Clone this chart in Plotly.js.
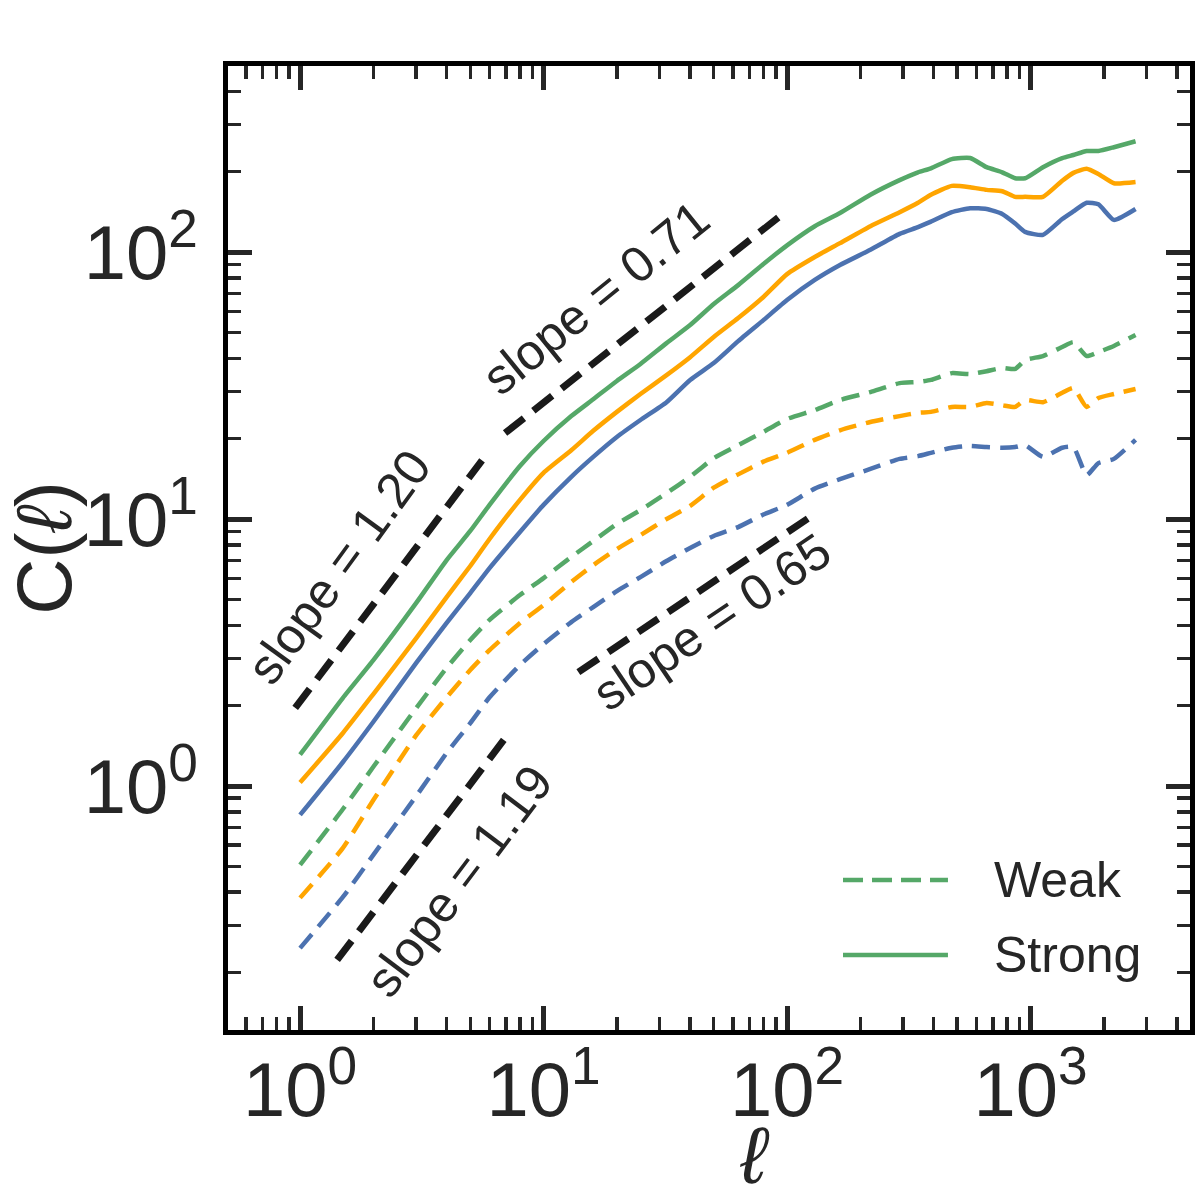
<!DOCTYPE html>
<html>
<head>
<meta charset="utf-8">
<script src="https://cdn.plot.ly/plotly-3.0.1.min.js"></script>
<style>
  html, body { margin: 0; padding: 0; background: #ffffff; }
  #chart { width: 1200px; height: 1200px; }
</style>
</head>
<body>
<div id="chart"></div>
<script>
// ---- data ----
const ell = [1, 1.5, 2, 3, 4, 5, 6, 8, 10, 13, 16, 20, 25, 32, 40, 50, 63, 80, 100,
  130, 165, 220, 290, 345, 390, 475, 565, 660, 765, 865, 950, 1125, 1350, 1500, 1700, 1900, 2200, 2700];

const strongGreen = [1.31, 2.14, 2.96, 4.85, 7.02, 9.02, 11.3, 15.8, 19.6, 24.3, 28.1, 32.9, 38.1, 45.6, 53.3, 63.9, 75.2, 90.2, 106,
  125, 140, 164, 186, 199, 206, 223, 225, 208, 199, 189, 189, 208, 225, 231, 239, 239, 247, 260];
const strongOrange = [1.03, 1.58, 2.21, 3.58, 5.10, 6.67, 8.42, 11.8, 14.9, 18.1, 21.4, 25.2, 29.4, 34.6, 40.4, 48.1, 56.6, 67.9, 82.7,
  95.8, 108, 125, 141, 153, 164, 177, 175, 171, 169, 161, 161, 161, 185, 198, 205, 196, 181, 183];
const strongBlue = [0.779, 1.23, 1.74, 2.89, 4.08, 5.28, 6.55, 8.94, 11.3, 14.4, 17.1, 20.3, 23.5, 27.4, 33.2, 38.4, 46.4, 55.6, 66.1,
  78.6, 89.4, 102, 117, 124, 130, 141, 146, 145, 139, 128, 119, 116, 133, 142, 153, 151, 132, 145];

const weakGreen = [0.506, 0.820, 1.18, 1.96, 2.77, 3.52, 4.19, 5.19, 6.01, 7.21, 8.27, 9.58, 10.8, 12.5, 14.4, 16.9, 18.9, 21.2, 23.7,
  25.6, 27.9, 29.9, 32.3, 32.6, 33.2, 35.2, 34.9, 35.8, 36.8, 36.5, 39.4, 40.8, 44.1, 46.0, 40.8, 42.2, 44.5, 48.9];
const weakOrange = [0.381, 0.586, 0.886, 1.55, 2.15, 2.72, 3.23, 4.08, 4.76, 5.81, 6.72, 7.72, 8.71, 10.0, 11.2, 13.1, 14.7, 16.4, 17.7,
  19.8, 21.5, 23.1, 24.3, 25.0, 25.2, 26.3, 26.3, 27.2, 26.7, 26.3, 27.9, 27.4, 29.7, 31.0, 26.3, 28.4, 29.4, 30.7];
const weakBlue = [0.247, 0.384, 0.552, 0.917, 1.33, 1.72, 2.15, 2.84, 3.40, 4.11, 4.68, 5.37, 6.06, 6.96, 7.79, 8.64, 9.33, 10.4, 11.3,
  13.0, 14.1, 15.4, 16.8, 17.2, 17.7, 18.5, 18.8, 18.6, 18.5, 18.6, 18.9, 17.1, 18.5, 18.6, 14.6, 16.2, 16.8, 19.8];

// power-law guide segments (end points)
const guide120X = [0.955, 5.59];   const guide120Y = [1.96, 16.6];
const guide071X = [6.95, 100];     const guide071Y = [21.0, 143];
const guide119X = [1.42, 6.95];    const guide119Y = [0.223, 1.51];
const guide065X = [13.9, 128];     const guide065Y = [2.67, 10.35];

const guideLabels = ['slope = 1.20', 'slope = 0.71', 'slope = 0.65', 'slope = 1.19'];
const legendLabels = ['Weak', 'Strong'];

const xTickVals = [1, 10, 100, 1000];
const xTickText = ['10<sup>0</sup>', '10<sup>1</sup>', '10<sup>2</sup>', '10<sup>3</sup>'];
const yTickVals = [1, 10, 100];
const yTickText = ['10<sup>0</sup>', '10<sup>1</sup>', '10<sup>2</sup>'];

// ---- styling ----
const GREEN = '#55A868', ORANGE = '#FFA500', BLUE = '#4C72B0', BLACK = '#1a1a1a', TXT = '#262626';
const FONT = 'Liberation Sans, Arial, sans-serif';
const DASH = '18px,10px';

function minorVals(lo, hi) {
  const v = [];
  for (let k = lo; k <= hi; k++) for (let m = 2; m <= 9; m++) v.push(m * Math.pow(10, k));
  return v;
}

function curve(x, y, color, dash, width, smooth) {
  return { x: x, y: y, type: 'scatter', mode: 'lines', showlegend: false, hoverinfo: 'skip',
    line: smooth ? { color: color, width: width, dash: dash, shape: 'spline', smoothing: 0.5 }
                 : { color: color, width: width, dash: dash, shape: 'linear' } };
}

const traces = [
  curve(ell, weakGreen, GREEN, DASH, 4.5, true),
  curve(ell, weakOrange, ORANGE, DASH, 4.5, true),
  curve(ell, weakBlue, BLUE, DASH, 4.5, true),
  curve(ell, strongGreen, GREEN, 'solid', 4.5, true),
  curve(ell, strongOrange, ORANGE, 'solid', 4.5, true),
  curve(ell, strongBlue, BLUE, 'solid', 4.5, true),
  curve(guide120X, guide120Y, BLACK, '24px,12px', 7, false),
  curve(guide071X, guide071Y, BLACK, '24px,12px', 7, false),
  curve(guide119X, guide119Y, BLACK, '24px,12px', 7, false),
  curve(guide065X, guide065Y, BLACK, '24px,12px', 7, false)
];

const axisCommon = {
  type: 'log', showgrid: false, zeroline: false,
  showline: true, linecolor: '#000000', linewidth: 5, mirror: 'allticks',
  ticks: 'inside', ticklen: 24, tickwidth: 5, tickcolor: TXT,
  tickfont: { family: FONT, size: 76, color: TXT },
  tickmode: 'array'
};

const layout = {
  width: 1200, height: 1200,
  margin: { l: 228, r: 10, t: 66, b: 170 },
  paper_bgcolor: '#ffffff', plot_bgcolor: '#ffffff',
  showlegend: false,
  font: { family: FONT, color: TXT },
  xaxis: Object.assign({}, axisCommon, {
    range: [-0.296, 3.655],
    tickvals: xTickVals, ticktext: xTickText,
    ticklabelstandoff: -10,
    minor: { tickmode: 'array', tickvals: minorVals(-1, 3), ticks: 'inside', ticklen: 13, tickwidth: 3.5, tickcolor: TXT, showgrid: false },
    title: { text: '&nbsp;&nbsp;&nbsp;&nbsp;<i>ℓ</i>', font: { family: FONT, size: 80, color: TXT }, standoff: 0 }
  }),
  yaxis: Object.assign({}, axisCommon, {
    range: [-0.914, 2.697],
    tickvals: yTickVals, ticktext: yTickText,
    ticklabelstandoff: 10,
    minor: { tickmode: 'array', tickvals: minorVals(-1, 2), ticks: 'inside', ticklen: 13, tickwidth: 3.5, tickcolor: TXT, showgrid: false },
    title: { text: 'C(<i>ℓ</i>)', font: { family: FONT, size: 78, color: TXT }, standoff: 2 }
  }),
  shapes: [
    { type: 'line', xref: 'paper', yref: 'paper', x0: 0.6393, x1: 0.7484, y0: 0.1556, y1: 0.1556,
      line: { color: GREEN, width: 4.5, dash: '20px,9px' } },
    { type: 'line', xref: 'paper', yref: 'paper', x0: 0.6393, x1: 0.7484, y0: 0.0778, y1: 0.0778,
      line: { color: GREEN, width: 4.5 } }
  ],
  annotations: [
    { text: guideLabels[0], xref: 'paper', yref: 'paper', x: 0.1154, y: 0.4803, textangle: -54 },
    { text: guideLabels[1], xref: 'paper', yref: 'paper', x: 0.3825, y: 0.7593, textangle: -39 },
    { text: guideLabels[2], xref: 'paper', yref: 'paper', x: 0.5031, y: 0.4232, textangle: -34 },
    { text: guideLabels[3], xref: 'paper', yref: 'paper', x: 0.2401, y: 0.1546, textangle: -53 },
    { text: legendLabels[0], xref: 'paper', yref: 'paper', x: 0.794, y: 0.1556, xanchor: 'left', yanchor: 'middle', textangle: 0 },
    { text: legendLabels[1], xref: 'paper', yref: 'paper', x: 0.794, y: 0.0778, xanchor: 'left', yanchor: 'middle', textangle: 0 }
  ].map(a => Object.assign({ showarrow: false, xanchor: 'center', yanchor: 'middle',
      font: { family: FONT, size: 50, color: TXT } }, a))
};

Plotly.newPlot('chart', traces, layout, { staticPlot: true, displayModeBar: false });
</script>
</body>
</html>
